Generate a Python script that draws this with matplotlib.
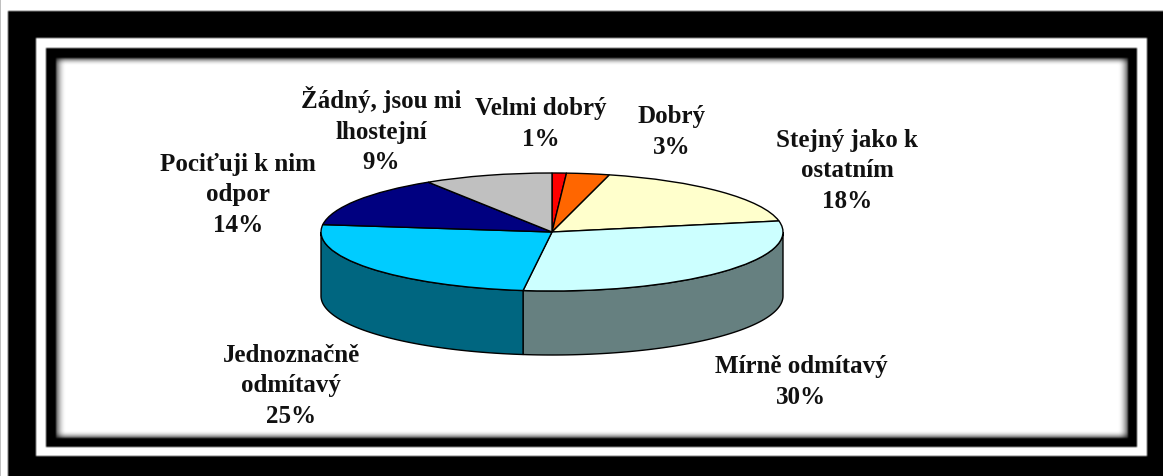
import numpy as np
import matplotlib
matplotlib.use('Agg')
import matplotlib.pyplot as plt

plt.rcParams['font.family'] = ['Liberation Serif', 'DejaVu Serif']

categories = ['Velmi dobrý', 'Dobrý', 'Stejný jako k\nostatním', 'Mírně odmítavý',
              'Jednoznačně\nodmítavý', 'Pociťuji k nim\nodpor', 'Žádný, jsou mi\nlhostejní']
values = [1, 3, 18, 30, 25, 14, 9]
colors = ['#ff0000', '#ff6600', '#ffffcc', '#ccffff', '#00ccff', '#000080', '#c0c0c0']
side_colors = ['#800000', '#803300', '#808066', '#668080', '#006680', '#000040', '#606060']

# label centres in pixels, same order as the categories
label_x = [541, 672, 847, 801, 291, 238, 381]
label_y = [124, 132, 171, 382, 386, 195, 130]

W, H = 1163, 477
fig = plt.figure(figsize=(W / 100, H / 100), dpi=100)

# Frame, drawn as one image so the edges can be soft like the original.
bg = np.ones((H, W))
bg[12:, 8:] = 0
bg[39:457, 36:1147] = 1
bg[49:448, 46:1137] = 0
bg[59:438, 56:1127] = 1
# Shadow along the inside of the white panel.
yy, xx = np.mgrid[0:H, 0:W]
dist_x = np.minimum(xx - 56.0, 1127.0 - xx)
dist_y = np.minimum(yy - 59.0, 438.0 - yy)
inner = (dist_x >= 0) & (dist_y >= 0)
shade_x = 1 - 0.6 * np.clip(1 - dist_x / 10.0, 0, 1) ** 2
shade_y = 1 - 0.6 * np.clip(1 - dist_y / 7.0, 0, 1) ** 2
bg[inner] = (shade_x * shade_y)[inner]
kernel = np.array([1, 2, 1]) / 4
bg = np.apply_along_axis(lambda r: np.convolve(r, kernel, mode='same'), 1, bg)
bg = np.apply_along_axis(lambda c: np.convolve(c, kernel, mode='same'), 0, bg)
bg[:, -1] = bg[:, -2]
bg[-1, :] = bg[-2, :]
bg[0, :] = 1

ax_bg = fig.add_axes([0, 0, 1, 1])
ax_bg.imshow(bg, cmap='gray', vmin=0, vmax=1, aspect='auto', interpolation='nearest')
ax_bg.axis('off')

# Pie: unit circle squeezed to an ellipse by the axis limits.
cx, cy, rx, ry = 552, 233, 231, 59
depth = 64 / ry
ax = fig.add_axes([0, 0, 1, 1])
ax.patch.set_alpha(0)
ax.axis('off')

# Side wall, only the front half of the rim shows.
edges = np.cumsum([0] + values) / sum(values) * 360
for i in range(len(values)):
    a0 = max(edges[i], 90)
    a1 = min(edges[i + 1], 270)
    if a1 <= a0:
        continue
    t = np.radians(np.linspace(a0, a1, 80))
    x = np.sin(t)
    y = np.cos(t)
    ax.fill(np.r_[x, x[::-1]], np.r_[y, y[::-1] - depth], facecolor=side_colors[i],
            edgecolor='black', linewidth=1.0, zorder=1)

ax.pie(values, colors=colors, startangle=90, counterclock=False,
       wedgeprops={'edgecolor': 'black', 'linewidth': 1.0, 'zorder': 2})
ax.set_aspect('auto')
ax.set_xlim(-cx / rx, (W - cx) / rx)
ax.set_ylim((cy - H) / ry, cy / ry)

for name, val, lx, ly in zip(categories, values, label_x, label_y):
    fig.text(lx / W, 1 - ly / H, '%s\n%d%%' % (name, val), ha='center', va='center',
             fontsize=18, fontweight='bold', color='#111111', linespacing=1.4)

fig.savefig('out.png', dpi=100)
